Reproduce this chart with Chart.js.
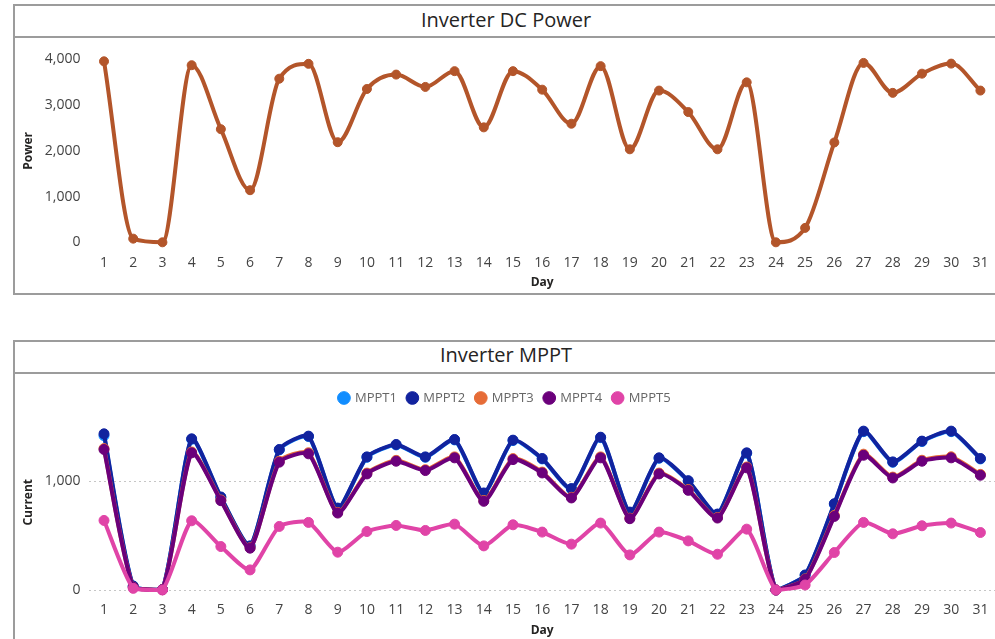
<!DOCTYPE html>
<html>
<head>
<meta charset="utf-8">
<script src="https://cdn.jsdelivr.net/npm/chart.js@4"></script>
<style>
    body { margin: 0; background: #ffffff; width: 995px; height: 639px; overflow: hidden; position: relative; font-family: "Open Sans", sans-serif; }
    .panel { position: absolute; left: 13px; width: 990px; border: 2px solid #9c9c9c; box-sizing: border-box; }
    .divider { position: absolute; left: 13px; width: 990px; height: 2px; background: #9c9c9c; }
    .titulo { position: absolute; left: 15px; width: 982px; text-align: center; font-size: 20px; color: #252423; line-height: 24px; }
    canvas { position: absolute; left: 15px; }
</style>
</head>
<body>
<div class="panel" style="top:4px;height:291px"></div>
<div class="divider" style="top:36px"></div>
<div class="titulo" style="top:8px">Inverter DC Power</div>

<div class="panel" style="top:340px;height:320px"></div>
<div class="divider" style="top:372px"></div>
<div class="titulo" style="top:343px">Inverter MPPT</div>

<canvas id="chart_power" width="980" height="256" style="top:38px"></canvas>
<canvas id="chart_mppt" width="980" height="268" style="top:374px"></canvas>

<script>
const dias = ["1", "2", "3", "4", "5", "6", "7", "8", "9", "10", "11", "12", "13", "14", "15", "16",
    "17", "18", "19", "20", "21", "22", "23", "24", "25", "26", "27", "28", "29", "30", "31"]

const dc_power = [3960, 80, 0, 3875, 2475, 1140, 3580, 3905, 2190, 3355, 3670, 3400, 3745, 2515, 3745, 3340,
    2595, 3855, 2035, 3320, 2850, 2035, 3500, 0, 315, 2185, 3925, 3270, 3690, 3910, 3320]

const mppt1 = [1420, 35, 5, 1387, 852, 403, 1289, 1412, 751, 1221, 1335, 1221, 1381, 889, 1375, 1206,
    929, 1402, 713, 1212, 1002, 696, 1258, 0, 136, 790, 1457, 1175, 1366, 1457, 1206]
const mppt2 = [1437, 37, 5, 1391, 856, 406, 1293, 1416, 754, 1225, 1339, 1225, 1385, 893, 1379, 1210,
    933, 1406, 717, 1216, 1006, 699, 1262, 0, 138, 794, 1462, 1179, 1370, 1462, 1210]
const mppt3 = [1301, 26, 3, 1270, 828, 389, 1185, 1263, 714, 1076, 1193, 1107, 1225, 823, 1209, 1085,
    853, 1225, 661, 1076, 924, 667, 1132, 0, 102, 686, 1250, 1039, 1194, 1226, 1064]
const mppt4 = [1293, 25, 3, 1262, 822, 385, 1176, 1253, 708, 1068, 1185, 1099, 1216, 816, 1200, 1077,
    847, 1216, 656, 1068, 917, 662, 1124, 0, 98, 677, 1240, 1031, 1185, 1216, 1056]
const mppt5 = [640, 15, 0, 637, 400, 185, 585, 622, 348, 538, 594, 548, 606, 406, 600, 533,
    422, 616, 323, 533, 452, 329, 560, 0, 46, 345, 622, 517, 591, 616, 529]

const power_ticks = [0, 1000, 2000, 3000, 4000]
const mppt_ticks = [0, 1000]
const power_max = 4000
const mppt_max = 1615

const color_texto = '#252423'
const color_ticks = '#444444'

function eje_x(alto) {
    return {
        offset: true,
        grid: { display: false, drawTicks: false },
        border: { display: false },
        ticks: { color: color_ticks, padding: 12, maxRotation: 0, autoSkip: false, font: { family: 'Open Sans', size: 14 } },
        title: { display: true, text: 'Day', color: color_texto, padding: { top: 0, bottom: 4 }, font: { family: 'Open Sans', size: 12, weight: 'bold' } },
        afterFit: function (scale) {
            scale.height = alto
            // no extra room for the first / last label
            scale.paddingLeft = 0
            scale.paddingRight = 0
        }
    }
}

function eje_y(titulo, maximo, ticks_valores, con_grid) {
    return {
        min: 0,
        max: maximo,
        grid: { display: con_grid, drawTicks: false, color: '#c6c6c6', lineWidth: 1 },
        border: { display: false, dash: [2, 3] },
        ticks: { color: color_ticks, padding: 9, font: { family: 'Open Sans', size: 14 } },
        title: { display: true, text: titulo, color: color_texto, padding: { top: 6, bottom: 0 }, font: { family: 'Open Sans', size: 12, weight: 'bold' } },
        afterBuildTicks: function (scale) { scale.ticks = ticks_valores.map(v => ({ value: v })) },
        afterFit: function (scale) {
            scale.width = 74.4
            scale.paddingTop = 0
            scale.paddingBottom = 0
        }
    }
}

function create_power_chart() {
    chart = document.querySelector('#chart_power')
    new Chart(chart, {
        type: 'line',
        data: {
            labels: dias,
            datasets: [{
                label: 'Power',
                data: dc_power,
                borderColor: '#b3552a',
                backgroundColor: '#b3552a',
                borderWidth: 4,
                pointRadius: 4.5,
                pointBorderWidth: 1,
                cubicInterpolationMode: 'monotone',
                clip: false
            }]
        },
        options: {
            responsive: false,
            animation: false,
            layout: { autoPadding: false, padding: { top: 21.5, right: 0, bottom: 0, left: 0 } },
            scales: {
                x: eje_x(51.7),
                y: eje_y('Power', power_max, power_ticks, false)
            },
            plugins: { legend: { display: false }, tooltip: { enabled: false } }
        }
    })
}

function serie(nombre, datos, color, orden) {
    return {
        label: nombre,
        data: datos,
        borderColor: color,
        backgroundColor: color,
        pointBackgroundColor: color,
        borderWidth: 4,
        pointRadius: 5,
        pointBorderWidth: 1,
        tension: 0.2,
        order: orden,
        clip: false
    }
}

function create_mppt_chart() {
    chart = document.querySelector('#chart_mppt')
    new Chart(chart, {
        type: 'line',
        data: {
            labels: dias,
            datasets: [
                serie('MPPT1', mppt1, '#118dff', 5),
                serie('MPPT2', mppt2, '#12239e', 4),
                serie('MPPT3', mppt3, '#e66c37', 3),
                serie('MPPT4', mppt4, '#6b007b', 2),
                serie('MPPT5', mppt5, '#e044a7', 1)
            ]
        },
        options: {
            responsive: false,
            animation: false,
            layout: { autoPadding: false, padding: { top: 6.5, right: 0, bottom: 0, left: 0 } },
            scales: {
                x: eje_x(52),
                y: eje_y('Current', mppt_max, mppt_ticks, true)
            },
            plugins: {
                legend: {
                    display: true,
                    position: 'top',
                    labels: {
                        usePointStyle: true,
                        pointStyle: 'circle',
                        boxWidth: 9,
                        boxHeight: 9,
                        padding: 11,
                        color: '#666666',
                        font: { family: 'Open Sans', size: 13 },
                        sort: (a, b) => a.datasetIndex - b.datasetIndex
                    }
                },
                tooltip: { enabled: false }
            }
        }
    })
}

create_power_chart()
create_mppt_chart()
</script>
</body>
</html>
